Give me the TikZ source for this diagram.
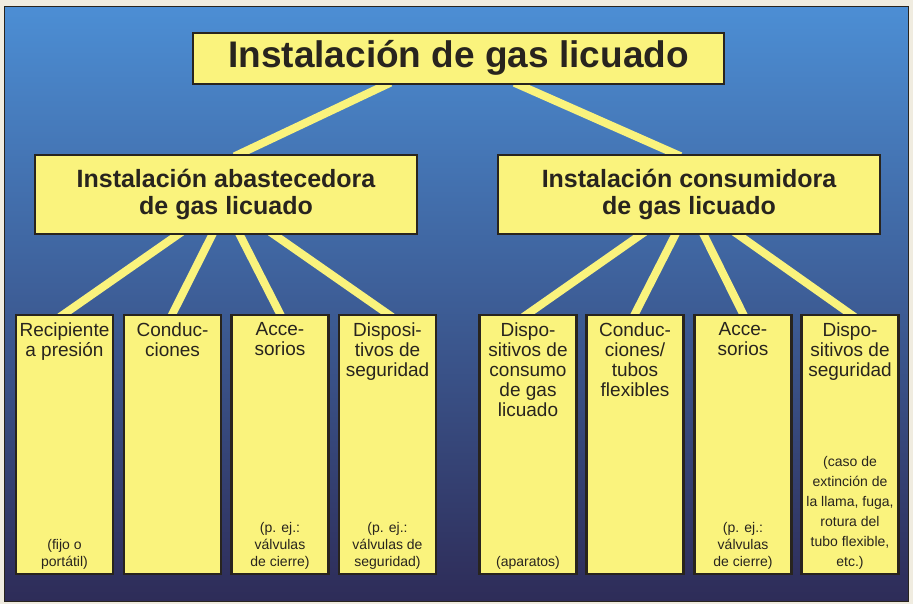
\documentclass[tikz,border=0pt]{standalone}
\usepackage{fontspec}
\setmainfont{Liberation Sans}
\usetikzlibrary{calc}
\pgfdeclarelayer{back}
\pgfdeclarelayer{bg}
\pgfsetlayers{back,bg,main}
\definecolor{yel}{RGB}{250,243,125}
\definecolor{edge}{RGB}{40,36,30}
\definecolor{bgtop}{RGB}{76,142,212}
\definecolor{bgmid}{RGB}{48,88,155}
\definecolor{bgbot}{RGB}{46,44,88}
\definecolor{margin}{RGB}{240,236,224}
\begin{document}
\begin{tikzpicture}[x=1pt,y=-1pt,
  box/.style={draw=edge, line width=2.5pt, fill=yel, inner sep=0pt, text=edge},
  lowbox/.style={box, minimum width=97pt, minimum height=259pt},
  conn/.style={draw=yel, line width=8pt, shorten <=-6pt, shorten >=-6pt},
  ttl/.style={font=\fontsize{19}{20}\selectfont, align=center, inner sep=0pt, anchor=north, text=edge},
  note/.style={font=\fontsize{14}{17}\selectfont, align=center, inner sep=0pt, anchor=south, text=edge}]

\useasboundingbox (0,0) rectangle (913,604);
\begin{pgfonlayer}{back}
\fill[margin] (0,0) rectangle (913,604);
\shade[top color=bgtop, middle color=bgmid, bottom color=bgbot] (4,7) rectangle (908,601);
\draw[edge, line width=1pt] (4,7) rectangle (908,601);
\end{pgfonlayer}

\node[box, minimum width=531pt, minimum height=51pt,
      font=\bfseries\fontsize{37}{40}\selectfont, text height=26pt, text depth=7pt]
      (top) at (458.5,58.5) {Instalación de gas licuado};

\node[box, minimum width=382pt, minimum height=79pt, align=center,
      font=\bfseries\fontsize{25}{27}\selectfont]
      (midL) at (226,194.5) {Instalación abastecedora\\de gas licuado};
\node[box, minimum width=382pt, minimum height=79pt, align=center,
      font=\bfseries\fontsize{25}{27}\selectfont]
      (midR) at (689,194.5) {Instalación consumidora\\de gas licuado};

\node[lowbox] (b1) at (64.5,444.5) {};
\node[lowbox] (b2) at (172.5,444.5) {};
\node[lowbox] (b3) at (280,444.5) {};
\node[lowbox] (b4) at (387.5,444.5) {};
\node[lowbox] (b5) at (528,444.5) {};
\node[lowbox] (b6) at (635,444.5) {};
\node[lowbox] (b7) at (743,444.5) {};
\node[lowbox] (b8) at (850,444.5) {};

\node[ttl] (t1) at ([yshift=-8.5pt]b1.north) {Recipiente\\a presión};
\node[ttl] (t2) at ([yshift=-8.5pt]b2.north) {Conduc-\\ciones};
\node[ttl] (t3) at ([yshift=-8.5pt]b3.north) {Acce-\\sorios};
\node[ttl] (t4) at ([yshift=-8.5pt]b4.north) {Disposi-\\tivos de\\seguridad};
\node[ttl] (t5) at ([yshift=-8.5pt]b5.north) {Dispo-\\sitivos de\\consumo\\de gas\\licuado};
\node[ttl] (t6) at ([yshift=-8.5pt]b6.north) {Conduc-\\ciones/\\tubos\\flexibles};
\node[ttl] (t7) at ([yshift=-8.5pt]b7.north) {Acce-\\sorios};
\node[ttl] (t8) at ([yshift=-8.5pt]b8.north) {Dispo-\\sitivos de\\seguridad};

\node[note] (n1) at ([yshift=6pt]b1.south) {(fijo o\\portátil)};
\node[note] (n3) at ([yshift=6pt]b3.south) {(p. ej.:\\válvulas\\de cierre)};
\node[note] (n4) at ([yshift=6pt]b4.south) {(p. ej.:\\válvulas de\\seguridad)};
\node[note] (n5) at ([yshift=6pt]b5.south) {(aparatos)};
\node[note] (n7) at ([yshift=6pt]b7.south) {(p. ej.:\\válvulas\\de cierre)};
\node[note, font=\fontsize{14}{20}\selectfont] (n8) at ([yshift=6pt]b8.south)
  {(caso de\\extinción de\\la llama, fuga,\\rotura del\\tubo flexible,\\etc.)};

\begin{pgfonlayer}{bg}
\draw[conn] ([xshift=-73.5pt]top.south) -- ([xshift=14pt]midL.north);
\draw[conn] ([xshift=61.5pt]top.south) -- ([xshift=-14pt]midR.north);
\draw[conn] ([xshift=-49pt]midL.south) -- (b1.north);
\draw[conn] ([xshift=-14pt]midL.south) -- (b2.north);
\draw[conn] ([xshift=14pt]midL.south) -- (b3.north);
\draw[conn] ([xshift=49pt]midL.south) -- (b4.north);
\draw[conn] ([xshift=-49pt]midR.south) -- (b5.north);
\draw[conn] ([xshift=-14pt]midR.south) -- (b6.north);
\draw[conn] ([xshift=15pt]midR.south) -- (b7.north);
\draw[conn] ([xshift=50pt]midR.south) -- (b8.north);
\end{pgfonlayer}
\end{tikzpicture}
\end{document}
